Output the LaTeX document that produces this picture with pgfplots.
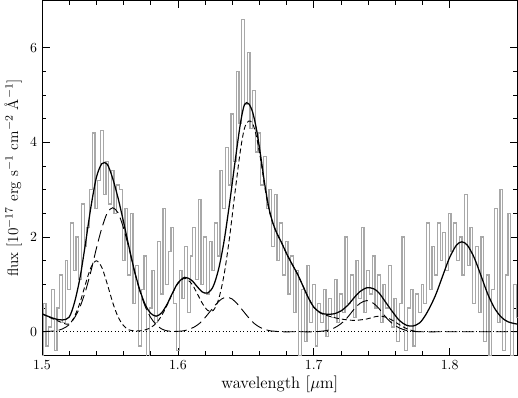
\documentclass[border=0pt]{standalone}
\usepackage{pgfplots}
\pgfplotsset{compat=1.18}
\definecolor{specgray}{RGB}{168,168,168}
\tikzset{
  sdash/.style={black, line width=0.65pt, dash pattern=on 3.6pt off 2.2pt},
  ldash/.style={black, line width=0.65pt, dash pattern=on 8.5pt off 3.6pt},
}
\begin{document}
\begin{tikzpicture}
\begin{axis}[
  scale only axis,
  width=342.5pt, height=255.7pt,
  xmin=1.5, xmax=1.85,
  ymin=-0.5, ymax=7,
  xtick={1.5,1.6,1.7,1.8},
  ytick={0,2,4,6},
  minor x tick num=4,
  minor y tick num=3,
  tick pos=both,
  ticklabel pos=left,
  tick align=inside,
  major tick length=5.5pt,
  minor tick length=3pt,
  xticklabel style={/pgf/number format/fixed, /pgf/number format/precision=1},
  xlabel={wavelength [$\mu$m]},
  ylabel={flux [10$^{-17}$ erg s$^{-1}$ cm$^{-2}$ \AA$^{-1}$]},
  xlabel style={font=\large, yshift=2pt},
  ylabel style={font=\fontsize{11}{13}\selectfont, yshift=-1pt},
  axis line style={line width=0.6pt},
  every tick/.style={black, line width=0.5pt},
]
% observed spectrum
\addplot[const plot mark mid, specgray, line width=0.9pt] coordinates {
(1.500,-0.50) (1.502,0.60) (1.504,-0.30) (1.506,0.10) (1.508,0.90) (1.510,-0.40)
(1.512,0.50) (1.514,1.20) (1.516,0.20) (1.518,1.50) (1.520,0.90) (1.522,2.30)
(1.524,1.30) (1.526,2.00) (1.528,1.10) (1.530,2.70) (1.532,1.80) (1.534,2.20)
(1.536,3.00) (1.538,4.20) (1.540,2.60) (1.542,3.20) (1.544,4.25) (1.546,2.90)
(1.548,3.60) (1.550,2.70) (1.552,3.40) (1.554,2.50) (1.556,3.10) (1.558,3.00)
(1.560,1.50) (1.562,2.60) (1.564,1.20) (1.566,2.50) (1.568,0.60) (1.570,1.40)
(1.572,-0.30) (1.574,0.90) (1.576,1.60) (1.578,-0.60) (1.580,0.50) (1.582,1.30)
(1.584,0.20) (1.586,1.90) (1.588,0.80) (1.590,2.60) (1.592,1.00) (1.594,1.70)
(1.596,2.20) (1.598,0.60) (1.600,-0.40) (1.602,1.30) (1.604,0.70) (1.606,1.80)
(1.608,0.40) (1.610,1.60) (1.612,2.20) (1.614,1.10) (1.616,2.80) (1.618,1.00)
(1.620,2.00) (1.622,0.80) (1.624,1.90) (1.626,1.30) (1.628,2.30) (1.630,1.60)
(1.632,3.40) (1.634,2.60) (1.636,3.90) (1.638,3.10) (1.640,4.60) (1.642,3.60)
(1.644,5.50) (1.646,4.40) (1.648,6.60) (1.650,4.80) (1.652,5.90) (1.654,4.30)
(1.656,5.10) (1.658,3.80) (1.660,4.20) (1.662,3.10) (1.664,3.70) (1.666,2.60)
(1.668,3.00) (1.670,1.80) (1.672,2.90) (1.674,1.50) (1.676,2.30) (1.678,1.20)
(1.680,1.90) (1.682,0.80) (1.684,1.60) (1.686,0.40) (1.688,1.30) (1.690,-0.50)
(1.692,0.90) (1.694,-0.20) (1.696,1.40) (1.698,0.20) (1.700,1.00) (1.702,-0.30)
(1.704,0.60) (1.706,0.20) (1.708,0.90) (1.710,-0.10) (1.712,0.70) (1.714,0.30)
(1.716,1.10) (1.718,0.20) (1.720,0.80) (1.722,0.40) (1.724,2.00) (1.726,0.60)
(1.728,1.20) (1.730,0.30) (1.732,1.50) (1.734,0.70) (1.736,2.20) (1.738,0.40)
(1.740,1.30) (1.742,0.80) (1.744,1.60) (1.746,0.50) (1.748,1.20) (1.750,0.20)
(1.752,1.00) (1.754,0.50) (1.756,1.40) (1.758,0.10) (1.760,0.70) (1.762,-0.20)
(1.764,0.60) (1.766,2.00) (1.768,-0.40) (1.770,0.50) (1.772,0.90) (1.774,-0.30)
(1.776,0.80) (1.778,0.40) (1.780,1.00) (1.782,0.60) (1.784,2.30) (1.786,0.90)
(1.788,1.80) (1.790,1.20) (1.792,2.30) (1.794,1.50) (1.796,2.10) (1.798,1.30)
(1.800,2.50) (1.802,1.70) (1.804,2.30) (1.806,1.50) (1.808,2.00) (1.810,1.20)
(1.812,2.90) (1.814,1.40) (1.816,2.20) (1.818,0.60) (1.820,1.80) (1.822,0.40)
(1.824,2.00) (1.826,-0.20) (1.828,1.20) (1.830,-0.50) (1.832,0.90) (1.834,2.60)
(1.836,0.20) (1.838,3.00) (1.840,-0.40) (1.842,1.20) (1.844,2.50) (1.846,-0.50)
(1.848,1.00) (1.850,0.30)
};
% zero level
\addplot[black, dotted, line width=0.5pt] coordinates {(1.5,0) (1.85,0)};
% short-dashed components
\addplot[sdash, smooth] coordinates {
(1.500,0.38) (1.505,0.31) (1.510,0.25) (1.515,0.19) (1.520,0.16) (1.524,0.33)
(1.528,0.62) (1.532,1.01) (1.536,1.36) (1.540,1.50) (1.544,1.36) (1.548,1.01)
(1.552,0.62) (1.556,0.31) (1.560,0.13) (1.564,0.04) (1.568,0.02) (1.572,0.02)
(1.576,0.04) (1.580,0.09) (1.584,0.18) (1.588,0.34) (1.592,0.56) (1.596,0.81)
(1.600,1.02) (1.605,1.13) (1.610,1.02) (1.614,0.82) (1.618,0.60) (1.622,0.45)
(1.626,0.45) (1.630,0.69) (1.634,1.21) (1.638,1.99) (1.642,2.94) (1.646,3.83)
(1.649,4.30) (1.652,4.45) (1.655,4.40) (1.658,4.10) (1.661,3.62) (1.664,3.05)
(1.667,2.58) (1.670,2.28) (1.673,2.07) (1.676,1.90) (1.680,1.65) (1.684,1.43)
(1.688,1.22) (1.692,0.97) (1.696,0.72) (1.700,0.52) (1.704,0.41) (1.707,0.37)
(1.710,0.34) (1.715,0.30) (1.720,0.27) (1.725,0.25) (1.730,0.24) (1.734,0.25)
(1.739,0.27) (1.744,0.31) (1.748,0.33) (1.753,0.31) (1.758,0.24) (1.763,0.15)
(1.768,0.07) (1.773,0.02) (1.778,0.00)
};
% long-dashed components
\addplot[ldash, smooth] coordinates {
(1.500,0.00) (1.505,0.01) (1.510,0.02) (1.515,0.06) (1.520,0.15) (1.524,0.30)
(1.528,0.53) (1.532,0.86) (1.536,1.28) (1.540,1.76) (1.544,2.19) (1.548,2.51)
(1.552,2.62) (1.556,2.51) (1.560,2.19) (1.564,1.76) (1.568,1.28) (1.572,0.86)
(1.576,0.53) (1.580,0.30) (1.584,0.15) (1.588,0.06) (1.592,0.02) (1.596,0.01)
(1.600,0.01) (1.604,0.02) (1.608,0.05) (1.612,0.10) (1.616,0.18) (1.620,0.30)
(1.624,0.44) (1.628,0.58) (1.632,0.69) (1.636,0.73) (1.640,0.69) (1.644,0.58)
(1.648,0.44) (1.652,0.30) (1.656,0.18) (1.660,0.10) (1.664,0.05) (1.668,0.02)
(1.672,0.01) (1.676,0.00) (1.688,0.00) (1.700,0.00) (1.705,0.01) (1.710,0.03)
(1.715,0.08) (1.720,0.17) (1.725,0.31) (1.730,0.49) (1.734,0.60) (1.739,0.66)
(1.744,0.60) (1.748,0.49) (1.753,0.31) (1.758,0.17) (1.763,0.08) (1.768,0.03)
(1.773,0.01) (1.778,0.00) (1.800,0.00) (1.825,0.00) (1.850,0.00)
};
% total fit
\addplot[black, line width=0.9pt, smooth] coordinates {
(1.500,0.38) (1.505,0.32) (1.510,0.27) (1.515,0.25) (1.520,0.31) (1.524,0.63)
(1.528,1.15) (1.532,1.87) (1.536,2.64) (1.540,3.26) (1.544,3.55) (1.548,3.54)
(1.552,3.24) (1.556,2.82) (1.560,2.32) (1.564,1.79) (1.568,1.29) (1.572,0.88)
(1.576,0.57) (1.580,0.39) (1.584,0.33) (1.588,0.40) (1.592,0.58) (1.596,0.82)
(1.600,1.03) (1.605,1.15) (1.610,1.09) (1.614,0.96) (1.618,0.84) (1.622,0.82)
(1.626,0.96) (1.630,1.33) (1.634,1.92) (1.638,2.71) (1.642,3.58) (1.646,4.40)
(1.649,4.80) (1.652,4.82) (1.655,4.64) (1.658,4.25) (1.661,3.70) (1.664,3.10)
(1.667,2.61) (1.670,2.29) (1.673,2.07) (1.676,1.90) (1.680,1.65) (1.684,1.43)
(1.688,1.22) (1.692,0.97) (1.696,0.72) (1.700,0.52) (1.704,0.42) (1.707,0.38)
(1.710,0.37) (1.715,0.38) (1.720,0.44) (1.725,0.56) (1.730,0.73) (1.734,0.85)
(1.739,0.93) (1.744,0.91) (1.748,0.82) (1.753,0.62) (1.758,0.42) (1.763,0.24)
(1.768,0.14) (1.773,0.12) (1.778,0.19) (1.782,0.34) (1.786,0.55) (1.790,0.80)
(1.795,1.19) (1.800,1.57) (1.805,1.83) (1.809,1.90) (1.813,1.83) (1.818,1.57)
(1.823,1.19) (1.828,0.80) (1.833,0.50) (1.838,0.31) (1.843,0.21) (1.850,0.16)
};
\end{axis}
\end{tikzpicture}
\end{document}
